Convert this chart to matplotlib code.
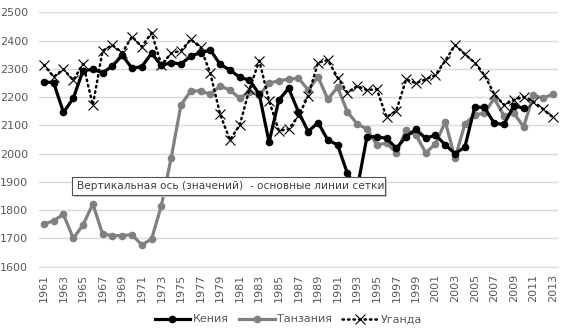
import numpy as np
import matplotlib
matplotlib.use("Agg")
import matplotlib.pyplot as plt

years = list(range(1961, 2014))

kenya = [2255, 2250, 2146, 2196, 2294, 2298, 2286, 2310, 2348, 2302,
         2308, 2355, 2312, 2322, 2317, 2345, 2357, 2367, 2316, 2296,
         2270, 2260, 2210, 2040, 2190, 2231, 2148, 2078, 2110, 2048,
         2031, 1930, 1875, 2060, 2060, 2054, 2019, 2060, 2086, 2054,
         2066, 2031, 2000, 2023, 2164, 2164, 2107, 2104, 2169, 2161,
         np.nan, np.nan, np.nan]

tanzania = [1750, 1763, 1785, 1700, 1748, 1822, 1715, 1710, 1710, 1713,
            1677, 1698, 1816, 1985, 2172, 2222, 2222, 2210, 2239, 2225,
            2196, 2219, 2207, 2249, 2258, 2263, 2267, 2225, 2272, 2192,
            2235, 2148, 2105, 2087, 2031, 2037, 2003, 2084, 2066, 2003,
            2034, 2113, 1984, 2105, 2137, 2143, 2196, 2133, 2143, 2095,
            2207, 2196, 2211]

uganda = [2314, 2272, 2298, 2260, 2317, 2172, 2364, 2384, 2357, 2414,
          2378, 2428, 2314, 2355, 2364, 2404, 2376, 2284, 2140, 2048,
          2101, 2228, 2329, 2187, 2081, 2086, 2133, 2204, 2322, 2331,
          2269, 2216, 2239, 2225, 2228, 2129, 2152, 2263, 2249, 2263,
          2278, 2329, 2384, 2352, 2322, 2278, 2211, 2172, 2190, 2201,
          2184, 2157, 2129]

y_ticks = list(range(1600, 2501, 100))

plt.rcParams['font.family'] = ['DejaVu Sans']
label_color = '#595959'
grid_color = '#d9d9d9'

fig = plt.figure(figsize=(5.71, 3.31), dpi=100)
ax = fig.add_axes([0.0683, 0.1943, 0.9087, 0.7685], zorder=1)

x = np.arange(len(years))
ax.plot(x, kenya, color='black', lw=2.3, marker='o', ms=4.5, label='Кения', zorder=4)
ax.plot(x, tanzania, color='#808080', lw=2.3, marker='o', ms=4.5, label='Танзания', zorder=3)
ax.plot(x, uganda, color='black', lw=1.8, ls=(0, (0.6, 1.6)), dash_capstyle='round',
        marker='x', ms=7, mew=0.8, label='Уганда', zorder=5)

ax.set_xlim(-0.5, len(years) - 0.5)
ax.set_ylim(1600, 2500)
ax.set_yticks(y_ticks)
ax.set_xticks(x[::2])
ax.set_xticklabels([str(y) for y in years[::2]], rotation=90)
ax.tick_params(axis='both', length=0, labelsize=8, colors=label_color)
ax.tick_params(axis='y', pad=8)
ax.tick_params(axis='x', pad=5)
ax.grid(axis='y', color=grid_color, lw=1)
ax.set_axisbelow(True)
for s in ['top', 'right', 'left']:
    ax.spines[s].set_visible(False)
ax.spines['bottom'].set_color(grid_color)

leg = fig.legend(loc='center', bbox_to_anchor=(0.505, 0.035), ncol=3, frameon=False,
                 fontsize=8, handlelength=3.2, columnspacing=0.9, handletextpad=0.25)
for t in leg.get_texts():
    t.set_color(label_color)

# hover hint box over the gridlines (shadow + white panel)
bx0, by0, bw, bh = 0.1256, 0.411, 0.548, 0.055
shadow = fig.add_axes([bx0 + 0.004, by0 - 0.007, bw, bh], zorder=5)
shadow.set_facecolor('#c8c8c8')
shadow.set_xticks([])
shadow.set_yticks([])
for s in shadow.spines.values():
    s.set_visible(False)

tip = fig.add_axes([bx0, by0, bw, bh], zorder=6)
tip.set_facecolor('white')
tip.set_xticks([])
tip.set_yticks([])
for s in tip.spines.values():
    s.set_color('#555555')
    s.set_linewidth(0.8)
tip.text(0.018, 0.5, 'Вертикальная ось (значений)  - основные линии сетки',
         transform=tip.transAxes, fontsize=7.6, color='#404040', va='center', ha='left')

fig.savefig('out.png', dpi=100)
